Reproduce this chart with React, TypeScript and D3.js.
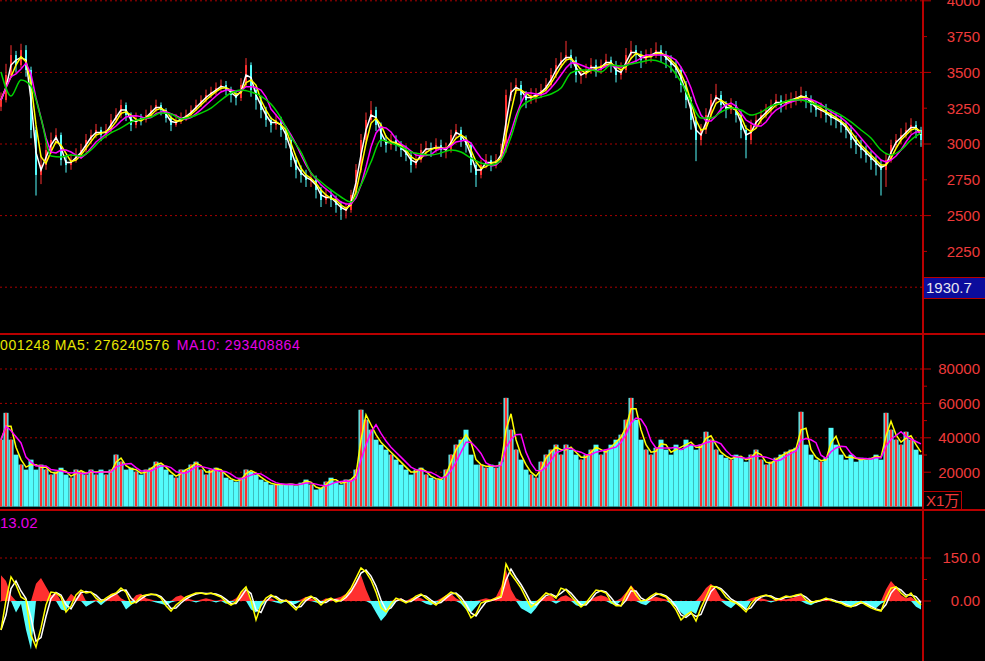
import React from "react";
import * as d3 from "d3";

// ---- price data (one bar per slot) ----
const closes = [3307,3482,3621,3551,3656,3517,3098,2784,2853,2958,
3028,3063,2888,2853,2888,2923,2958,3028,3063,3098,
3063,3098,3168,3202,3272,3202,3133,3181,3168,3202,
3237,3272,3237,3181,3133,3168,3181,3202,3237,3272,
3307,3342,3363,3391,3412,3377,3342,3321,3412,3551,
3377,3307,3237,3168,3133,3168,3098,3028,2888,2819,
2784,2749,2749,2679,2609,2644,2609,2574,2539,2539,
2644,2819,3028,3168,3237,3133,3028,2993,3028,2993,
2958,2923,2853,2888,2958,2972,2958,2993,2958,2958,
3063,3098,3028,2993,2853,2784,2853,2888,2853,2888,
2958,3342,3377,3412,3342,3307,3342,3342,3377,3412,
3482,3551,3586,3621,3586,3482,3482,3517,3551,3517,
3551,3586,3551,3482,3517,3621,3656,3621,3586,3621,
3621,3656,3621,3586,3551,3517,3412,3307,3168,3028,
3098,3202,3307,3342,3272,3237,3272,3202,3098,3028,
3133,3168,3202,3237,3272,3307,3272,3307,3307,3328,
3342,3307,3272,3237,3237,3202,3181,3168,3133,3098,
3028,2993,2958,2923,2888,2853,2819,2888,2993,3028,
3063,3098,3133,3098,3028];

const highs = [3360,3560,3690,3650,3700,3690,3540,3120,2920,3010,
3080,3110,3080,2920,2930,2970,3000,3070,3100,3140,
3120,3140,3210,3250,3310,3290,3220,3220,3210,3240,
3270,3310,3290,3250,3200,3210,3220,3240,3270,3310,
3340,3380,3400,3430,3450,3440,3400,3370,3460,3600,
3570,3400,3330,3260,3190,3210,3190,3120,3050,2910,
2850,2820,2800,2780,2700,2690,2680,2640,2600,2590,
2680,2860,3070,3220,3300,3260,3150,3060,3070,3060,
3020,2990,2950,2940,3000,3020,3010,3040,3030,3010,
3100,3140,3120,3060,3010,2870,2890,2930,2920,2930,
3000,3380,3430,3460,3440,3370,3390,3390,3420,3460,
3530,3600,3640,3720,3660,3610,3530,3560,3600,3590,
3590,3630,3610,3580,3570,3670,3720,3690,3650,3660,
3670,3710,3690,3650,3620,3580,3540,3440,3330,3190,
3140,3250,3350,3420,3370,3300,3320,3300,3230,3130,
3170,3210,3240,3280,3310,3350,3340,3350,3360,3370,
3400,3370,3340,3300,3290,3280,3240,3220,3200,3160,
3130,3060,3030,2990,2950,2920,2890,2930,3030,3070,
3110,3150,3180,3160,3120];

const lows = [3230,3290,3460,3500,3530,3470,3040,2640,2720,2820,
2930,3000,2850,2800,2820,2870,2900,2940,3000,3040,
3020,3040,3080,3150,3180,3160,3090,3110,3130,3150,
3190,3220,3200,3150,3090,3120,3140,3160,3190,3230,
3260,3290,3320,3340,3370,3340,3290,3270,3300,3400,
3330,3240,3180,3120,3080,3100,3050,2970,2840,2760,
2730,2700,2700,2620,2560,2580,2560,2520,2470,2480,
2520,2630,2800,3000,3150,3090,2980,2940,2960,2950,
2910,2880,2800,2830,2870,2920,2910,2940,2910,2900,
2940,3040,2980,2940,2800,2700,2760,2830,2810,2830,
2870,2940,3300,3350,3290,3250,3280,3290,3320,3360,
3400,3460,3530,3570,3530,3430,3420,3460,3490,3470,
3490,3530,3500,3430,3450,3500,3590,3570,3530,3560,
3570,3600,3570,3530,3500,3460,3360,3250,3100,2880,
2990,3070,3180,3280,3220,3180,3210,3150,3040,2900,
3000,3110,3140,3180,3210,3250,3220,3240,3250,3270,
3290,3250,3220,3190,3180,3150,3130,3110,3080,3040,
2970,2930,2900,2870,2820,2780,2640,2700,2870,2970,
3000,3040,3070,3040,2980];

const firstOpen = 3260;

// long moving average (green), one value every 2 bars
const maLong = [3503,3335,3447,3405,3181,2916,2909,2923,2916,2958,
3028,3077,3112,3154,3175,3188,3216,3209,3175,3188,
3216,3251,3307,3356,3377,3363,3335,3279,3181,3049,
2944,2798,2735,2679,2630,2595,2714,2874,3028,3007,
2979,2944,2930,2923,2937,2958,2944,2902,2867,2853,
2888,3049,3258,3307,3328,3349,3391,3496,3517,3517,
3503,3551,3544,3558,3572,3586,3572,3530,3433,3293,
3181,3181,3223,3251,3237,3202,3223,3265,3286,3307,
3307,3286,3265,3237,3202,3154,3098,3042,2958,2923,
2958,3028,3077];

// ---- volume (x1万) ----
const volumes = [38900,54500,38900,30200,24400,21500,27300,21500,24400,21500,
18600,20300,22600,18600,16800,21500,20300,18600,21500,18600,
21500,18600,21500,30200,26100,21500,22600,20300,18600,21500,
22600,26100,24400,21500,18600,16800,21500,21500,24400,26100,
21500,18600,21500,22600,20300,16800,15700,14500,16800,21500,
20300,18600,15700,14500,12800,12800,12800,12800,13300,12200,
13900,15700,12800,9900,11000,14500,16800,14500,12800,15700,
15700,21500,56300,50500,44700,38900,36000,33100,30200,27300,
24400,21500,18600,21500,22600,18600,16800,15700,15700,21500,
30200,36000,38900,44700,30200,24400,24400,22600,24400,22600,
26100,63200,44700,33100,27300,21500,18600,16800,26100,30200,
33100,36000,30200,36000,33100,30200,27300,30200,33100,36000,
30200,33100,36000,38900,41800,50500,63200,50500,38900,33100,
30200,34200,38900,33100,30200,36000,33100,38900,36000,33100,
36000,43500,38900,33100,30200,28400,27300,30200,28400,26100,
30200,33100,27300,24400,26100,28400,30200,31900,33100,34200,
55100,36000,30200,27300,26100,28400,45800,36000,30200,27300,
30200,26100,28400,27300,28400,30200,27300,54500,44700,38900,
36000,43500,38900,33100,30200];

// ---- oscillator ----
const oscLine = [-101,3,84,56,14,3,-119,-161,-94,-14,
31,28,14,-38,-17,21,38,28,31,10,
-3,10,21,28,45,31,-10,-3,17,21,
24,21,10,-17,-35,-14,0,14,21,28,
28,24,28,21,14,-3,-14,-3,31,49,
3,-66,-14,10,21,10,-3,3,-14,-31,
-7,10,17,3,-14,3,10,-3,3,21,
45,80,115,101,73,31,-24,-38,-10,10,
3,-7,3,17,24,10,-3,-14,3,17,
31,24,3,-24,-59,-45,-7,0,3,10,
17,129,94,70,45,10,-21,-7,10,28,
21,10,45,38,17,-3,-21,-7,17,38,
35,28,-3,-17,-17,21,49,21,0,3,
17,28,21,14,-7,-31,-66,-49,-38,-70,
-24,14,52,49,38,14,0,-7,-21,-38,
-10,10,17,21,14,3,10,17,14,21,
24,3,-7,0,3,10,3,-3,-7,-17,
-21,-10,-3,-14,-24,-31,-35,10,45,49,
28,14,28,3,-14];

const oscHist = [90,70,20,-40,-10,-100,-170,60,80,50,
20,30,-30,-35,25,10,35,-20,-10,5,
-15,5,25,30,10,-30,-15,20,25,10,
5,-5,-10,-15,-5,15,20,10,5,-5,
5,10,5,-5,5,-10,-5,10,30,40,
-30,-40,-20,5,10,-5,-10,5,-15,-10,
5,15,10,-5,-10,10,5,10,15,25,
40,70,90,40,-10,-40,-70,-50,-20,5,
10,-5,10,15,10,-10,-15,-5,10,20,
25,10,-10,-30,-40,-20,5,10,5,15,
50,110,40,10,-25,-35,-45,-25,10,15,
20,-10,15,20,10,-15,-20,-10,5,15,
20,15,-10,-15,10,30,55,35,-10,-15,
10,15,10,5,-10,-20,-40,-55,-35,-45,
20,45,60,40,10,-15,-25,-10,-20,-30,
10,15,10,5,-5,5,10,5,10,15,
20,-10,-15,-5,5,10,5,-5,-10,-15,
-20,-10,-5,-15,-20,-25,-10,40,70,50,
20,10,15,-20,-30];

// ---- axis ticks / labels ----
const priceLabels = [4000, 3750, 3500, 3250, 3000, 2750, 2500, 2250];
const priceGrid = [4000, 3500, 3000, 2500, 2000];
const priceMinor = [3750, 3250, 2750, 2250];
const volLabels = [80000, 60000, 40000, 20000];
const volMinor = [70000, 50000, 30000];
const oscLabels = [150, 0];
const oscLabelText = ["150.0", "0.00"];
const oscMinor = [75];
const lastPriceLabel = "1930.7";
const volTitleA = "001248 MA5: 276240576";
const volTitleB = "MA10: 293408864";
const oscTitle = "13.02";
const volUnit = "X1万";

const AX = 923;
const AXIS_RED = "#b80000";
const LABEL_RED = "#ee3a3a";
const GRID_RED = "#a80000";
const CYAN = "#54fcfc";
const UP_RED = "#ff3030";
const FONT = "'Liberation Sans', Arial, 'Noto Sans CJK SC', sans-serif";

function movingAvg(arr: number[], n: number): number[] {
  return arr.map((_, i) => d3.mean(arr.slice(Math.max(0, i - n + 1), i + 1)) as number);
}

export default function App() {
  const n = closes.length;
  const x = d3.scaleLinear().domain([0, n - 1]).range([1, 921]);
  const slot = x(1) - x(0);
  const py = d3.scaleLinear().domain([2000, 4000]).range([287.2, 0.8]);
  const vy = d3.scaleLinear().domain([0, 80000]).range([506.6, 369]);
  const oy = d3.scaleLinear().domain([0, 150]).range([601, 558]);

  const opens = closes.map((c, i) => (i === 0 ? firstOpen : closes[i - 1]));

  const pLine = d3.line<number>().x((_, i) => x(i)).y((d) => py(d));
  const gLine = d3
    .line<number>()
    .x((_, j) => x(j * 2))
    .y((d) => py(d))
    .curve(d3.curveMonotoneX);
  const vLine = d3.line<number>().x((_, i) => x(i)).y((d) => vy(d));
  const oLine = d3.line<number>().x((_, i) => x(i)).y((d) => oy(d));
  const posArea = d3
    .area<number>()
    .x((_, i) => x(i))
    .y0(oy(0))
    .y1((d) => oy(Math.max(0, d)));
  const negArea = d3
    .area<number>()
    .x((_, i) => x(i))
    .y0(oy(0))
    .y1((d) => oy(Math.min(0, d)));

  const ma2 = movingAvg(closes, 2);
  const ma3 = movingAvg(closes, 3);
  const ma5 = movingAvg(closes, 5);
  const vma2 = movingAvg(volumes, 2);
  const vma4 = movingAvg(volumes, 4);
  const oscSlow = movingAvg(oscLine, 2);

  const dotted = "2,3";

  return (
    <svg
      width={985}
      height={661}
      style={{ position: "fixed", left: 0, top: 0, background: "#000", display: "block" }}
      fontFamily={FONT}
    >
      <defs>
        <clipPath id="cp-price">
          <rect x={0} y={0} width={AX} height={333} />
        </clipPath>
        <clipPath id="cp-vol">
          <rect x={0} y={335} width={AX} height={174} />
        </clipPath>
        <clipPath id="cp-osc">
          <rect x={0} y={511} width={AX} height={150} />
        </clipPath>
      </defs>
      <rect x={0} y={0} width={985} height={661} fill="#000" />

      {/* ---------- price panel ---------- */}
      {priceGrid.map((v) => (
        <line key={"pg" + v} x1={0} x2={AX} y1={py(v)} y2={py(v)} stroke={GRID_RED} strokeDasharray={dotted} strokeWidth={1} />
      ))}
      <g clipPath="url(#cp-price)">
        {closes.map((c, i) => {
          const o = opens[i];
          const up = c >= o;
          const col = up ? UP_RED : CYAN;
          const top = py(Math.max(o, c));
          const bot = py(Math.min(o, c));
          return (
            <g key={"c" + i}>
              <line x1={x(i)} x2={x(i)} y1={py(highs[i])} y2={py(lows[i])} stroke={col} strokeWidth={1} />
              <rect x={x(i) - 1} y={top} width={2} height={Math.max(1, bot - top)} fill={col} />
            </g>
          );
        })}
        <path d={pLine(ma2) || ""} fill="none" stroke="#ffffff" strokeWidth={1.5} />
        <path d={pLine(ma3) || ""} fill="none" stroke="#ffff00" strokeWidth={1.5} />
        <path d={pLine(ma5) || ""} fill="none" stroke="#ff00ff" strokeWidth={1.5} />
        <path d={gLine(maLong) || ""} fill="none" stroke="#00d400" strokeWidth={1.5} />
      </g>
      {priceLabels.map((v) => (
        <text key={"pl" + v} x={980} y={py(v)} dy="0.36em" textAnchor="end" fill={LABEL_RED} fontSize={15}>
          {v}
        </text>
      ))}
      {priceGrid.map((v) => (
        <line key={"pt" + v} x1={AX} x2={AX + 8} y1={py(v)} y2={py(v)} stroke={AXIS_RED} strokeWidth={1} />
      ))}
      {priceMinor.map((v) => (
        <line key={"pm" + v} x1={AX} x2={AX + 4} y1={py(v)} y2={py(v)} stroke={AXIS_RED} strokeWidth={1} />
      ))}
      <rect x={AX} y={278} width={62} height={20} fill="#0c0c9c" />
      <line x1={AX} x2={985} y1={277.5} y2={277.5} stroke={AXIS_RED} strokeWidth={1} />
      <line x1={AX} x2={985} y1={298.5} y2={298.5} stroke={AXIS_RED} strokeWidth={1} />
      <text x={926} y={293} fill="#e8e8f0" fontSize={15}>
        {lastPriceLabel}
      </text>

      {/* ---------- volume panel ---------- */}
      {volLabels.map((v) => (
        <line key={"vg" + v} x1={0} x2={AX} y1={vy(v)} y2={vy(v)} stroke={GRID_RED} strokeDasharray={dotted} strokeWidth={1} />
      ))}
      <g clipPath="url(#cp-vol)">
        {volumes.map((v, i) => {
          const up = closes[i] >= opens[i];
          const y0 = vy(v);
          const h = vy(0) - y0;
          return (
            <g key={"v" + i}>
              <rect x={x(i) - slot / 2} y={y0} width={slot} height={h} fill={CYAN} />
              {up ? <rect x={x(i) - 1.2} y={y0} width={2.4} height={h} fill={UP_RED} /> : null}
            </g>
          );
        })}
        <path d={vLine(vma2) || ""} fill="none" stroke="#ffff00" strokeWidth={1.5} />
        <path d={vLine(vma4) || ""} fill="none" stroke="#ff00ff" strokeWidth={1.5} />
      </g>
      <text x={0} y={350} fontSize={14} letterSpacing={0.6}>
        <tspan fill="#e6e600">{volTitleA}</tspan>
        <tspan fill="#e600e6" dx={7}>{volTitleB}</tspan>
      </text>
      {volLabels.map((v) => (
        <text key={"vl" + v} x={980} y={vy(v)} dy="0.36em" textAnchor="end" fill={LABEL_RED} fontSize={15}>
          {v}
        </text>
      ))}
      {volLabels.map((v) => (
        <line key={"vt" + v} x1={AX} x2={AX + 8} y1={vy(v)} y2={vy(v)} stroke={AXIS_RED} strokeWidth={1} />
      ))}
      {volMinor.map((v) => (
        <line key={"vm" + v} x1={AX} x2={AX + 4} y1={vy(v)} y2={vy(v)} stroke={AXIS_RED} strokeWidth={1} />
      ))}
      <rect x={AX + 0.5} y={491.5} width={38} height={18} fill="none" stroke={AXIS_RED} strokeWidth={1} />
      <text x={926} y={506} fill={LABEL_RED} fontSize={15}>
        {volUnit}
      </text>

      {/* ---------- oscillator panel ---------- */}
      {oscLabels.map((v) => (
        <line key={"og" + v} x1={0} x2={AX} y1={oy(v)} y2={oy(v)} stroke={GRID_RED} strokeDasharray={dotted} strokeWidth={1} />
      ))}
      <g clipPath="url(#cp-osc)">
        <path d={posArea(oscHist) || ""} fill={UP_RED} />
        <path d={negArea(oscHist) || ""} fill={CYAN} />
        <path d={oLine(oscSlow) || ""} fill="none" stroke="#ffffff" strokeWidth={1.5} />
        <path d={oLine(oscLine) || ""} fill="none" stroke="#ffff00" strokeWidth={1.5} />
      </g>
      <text x={0} y={528} fill="#e600e6" fontSize={15}>
        {oscTitle}
      </text>
      {oscLabels.map((v, k) => (
        <text key={"ol" + v} x={980} y={oy(v)} dy="0.36em" textAnchor="end" fill={LABEL_RED} fontSize={15}>
          {oscLabelText[k]}
        </text>
      ))}
      {oscLabels.map((v) => (
        <line key={"ot" + v} x1={AX} x2={AX + 8} y1={oy(v)} y2={oy(v)} stroke={AXIS_RED} strokeWidth={1} />
      ))}
      {oscMinor.map((v) => (
        <line key={"om" + v} x1={AX} x2={AX + 4} y1={oy(v)} y2={oy(v)} stroke={AXIS_RED} strokeWidth={1} />
      ))}

      {/* ---------- frame ---------- */}
      <line x1={0} x2={985} y1={334} y2={334} stroke={AXIS_RED} strokeWidth={2} />
      <line x1={0} x2={985} y1={510} y2={510} stroke={AXIS_RED} strokeWidth={2} />
      <line x1={AX} x2={AX} y1={0} y2={661} stroke={AXIS_RED} strokeWidth={2} />
    </svg>
  );
}
